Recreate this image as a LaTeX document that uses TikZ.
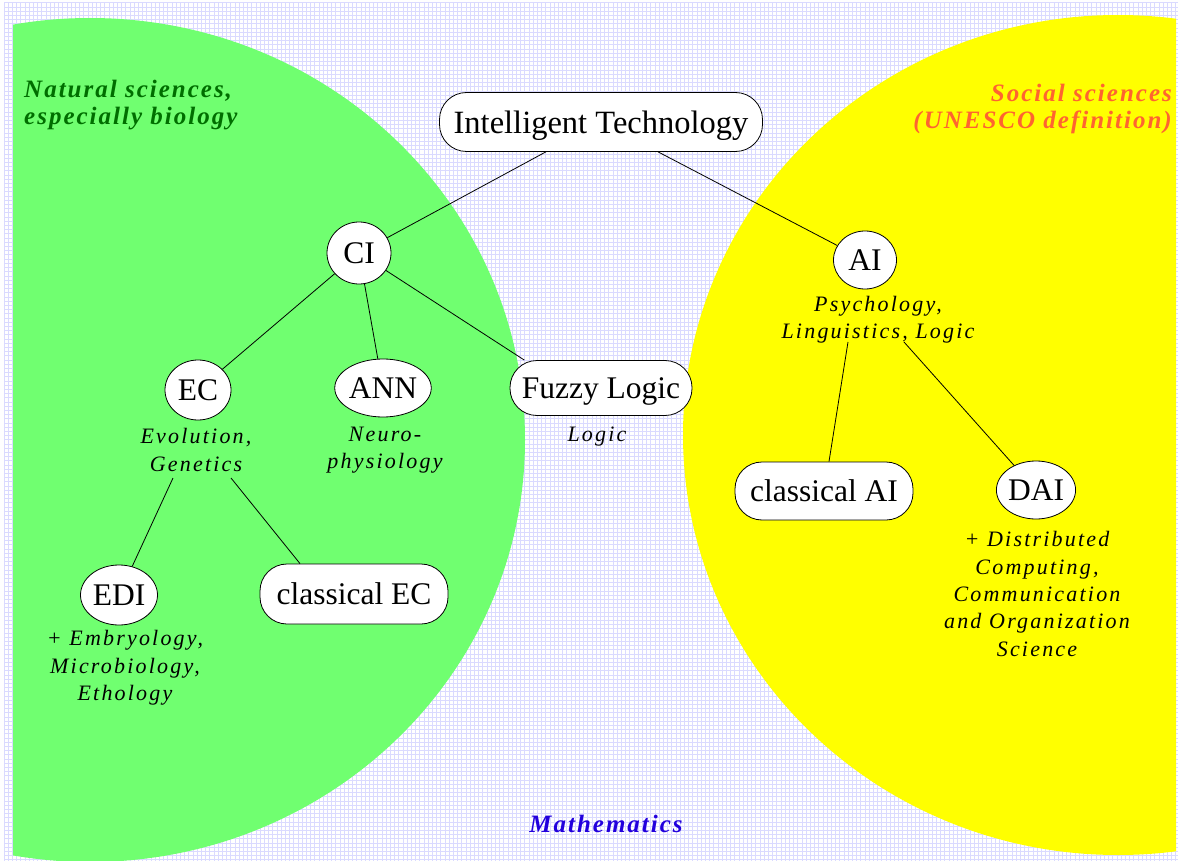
\documentclass[tikz,border=0pt]{standalone}
\usepackage{fontspec}
\setmainfont{Liberation Serif}
\newfontfamily\notefont{Liberation Serif}[LetterSpace=10]
\newfontfamily\fieldfont{Liberation Serif}[LetterSpace=8]
\usetikzlibrary{shapes.misc,shapes.geometric}

\definecolor{gridline}{RGB}{218,218,255}
\definecolor{natgreen}{RGB}{112,255,112}
\definecolor{socyellow}{RGB}{255,255,0}
\definecolor{natlabel}{RGB}{0,110,0}
\definecolor{soclabel}{RGB}{255,100,48}
\definecolor{mathlabel}{RGB}{34,0,221}

\begin{document}
\begin{tikzpicture}[x=1pt,y=-1pt,
  every node/.style={inner sep=0pt},
  link/.style={draw=black, line width=0.8pt},
  term/.style={draw=black, line width=0.8pt, fill=white, text depth=0pt,
    font=\fontsize{31.5}{36}\selectfont},
  oval/.style={term, ellipse},
  pill/.style={term, rectangle, rounded corners=27pt},
  note/.style={font=\notefont\itshape\fontsize{22}{27.3}\selectfont, align=center},
  field/.style={font=\fieldfont\bfseries\itshape\fontsize{25}{27}\selectfont},
]
\useasboundingbox (0,0) rectangle (1178,861);

% paper with a fine lavender grid
\fill[white] (0,0) rectangle (1178,861);
\foreach \gx in {4,8.2,...,1178} \draw[gridline, line width=1pt] (\gx,3) -- (\gx,861);
\foreach \gy in {3,7.2,...,861} \draw[gridline, line width=1pt] (4,\gy) -- (1178,\gy);

% the two fields of science
\begin{scope}
  \clip (13,0) rectangle (1176,861);
  \fill[natgreen] (90,440) ellipse [x radius=435, y radius=422];
  \fill[socyellow] (1118,435) ellipse [x radius=435, y radius=420];
\end{scope}

% field labels
\node[field, text=natlabel, anchor=west, align=left] (nat) at (24,105) {Natural sciences,\\especially biology};
\node[field, text=soclabel, anchor=east, align=right] (soc) at (1172,109) {Social sciences\\(UNESCO definition)};
\node[field, text=mathlabel] (math) at (606,824) {Mathematics};

% terms
\node[pill, minimum width=323, minimum height=59, font=\fontsize{32.5}{36}\selectfont] (IT) at (601,122) {Intelligent Technology};
\node[oval, minimum width=64, minimum height=62] (CI) at (359,253) {CI};
\node[oval, minimum width=63, minimum height=58] (AI) at (865,260) {AI};
\node[oval, minimum width=66, minimum height=60] (EC) at (198,390) {EC};
\node[oval, minimum width=85, minimum height=58] (ANN) at (383,388) {ANN};
\node[pill, minimum width=182, minimum height=55] (FL) at (601,388) {Fuzzy Logic};
\node[oval, minimum width=77, minimum height=60] (EDI) at (119,595) {EDI};
\node[pill, minimum width=188, minimum height=60] (cEC) at (354,594) {classical EC};
\node[pill, minimum width=178, minimum height=58] (cAI) at (824,491) {classical AI};
\node[oval, minimum width=77, minimum height=58] (DAI) at (1036,490) {DAI};

% disciplines behind each term
\node[note] (ECn) at (196,450) {Evolution,\\Genetics};
\node[note] (ANNn) at (385,450) {Neuro-\\physiology};
\node[note] (FLn) at (597,437) {Logic};
\node[note] (EDIn) at (125,668) {+ Embryology,\\Microbiology,\\Ethology};
\node[note] (AIn) at (878,320) {Psychology,\\Linguistics, Logic};
\node[note] (DAIn) at (1037,594) {+ Distributed\\Computing,\\Communication\\and Organization\\Science};

% connectors
\coordinate (ecL) at (173,478);
\coordinate (ecR) at (231,478);
\coordinate (aiL) at (848,342);
\coordinate (aiR) at (904,342);

\draw[link] (IT) -- (CI);
\draw[link] (IT) -- (AI);
\draw[link] (CI) -- (EC);
\draw[link] (CI) -- (ANN);
\draw[link] (CI) -- (FL.160);
\draw[link] (ecL) -- (EDI);
\draw[link] (ecR) -- ([xshift=-54pt]cEC.north);
\draw[link] (aiL) -- ([xshift=5pt]cAI.north);
\draw[link] (aiR) -- (DAI);
\end{tikzpicture}
\end{document}
